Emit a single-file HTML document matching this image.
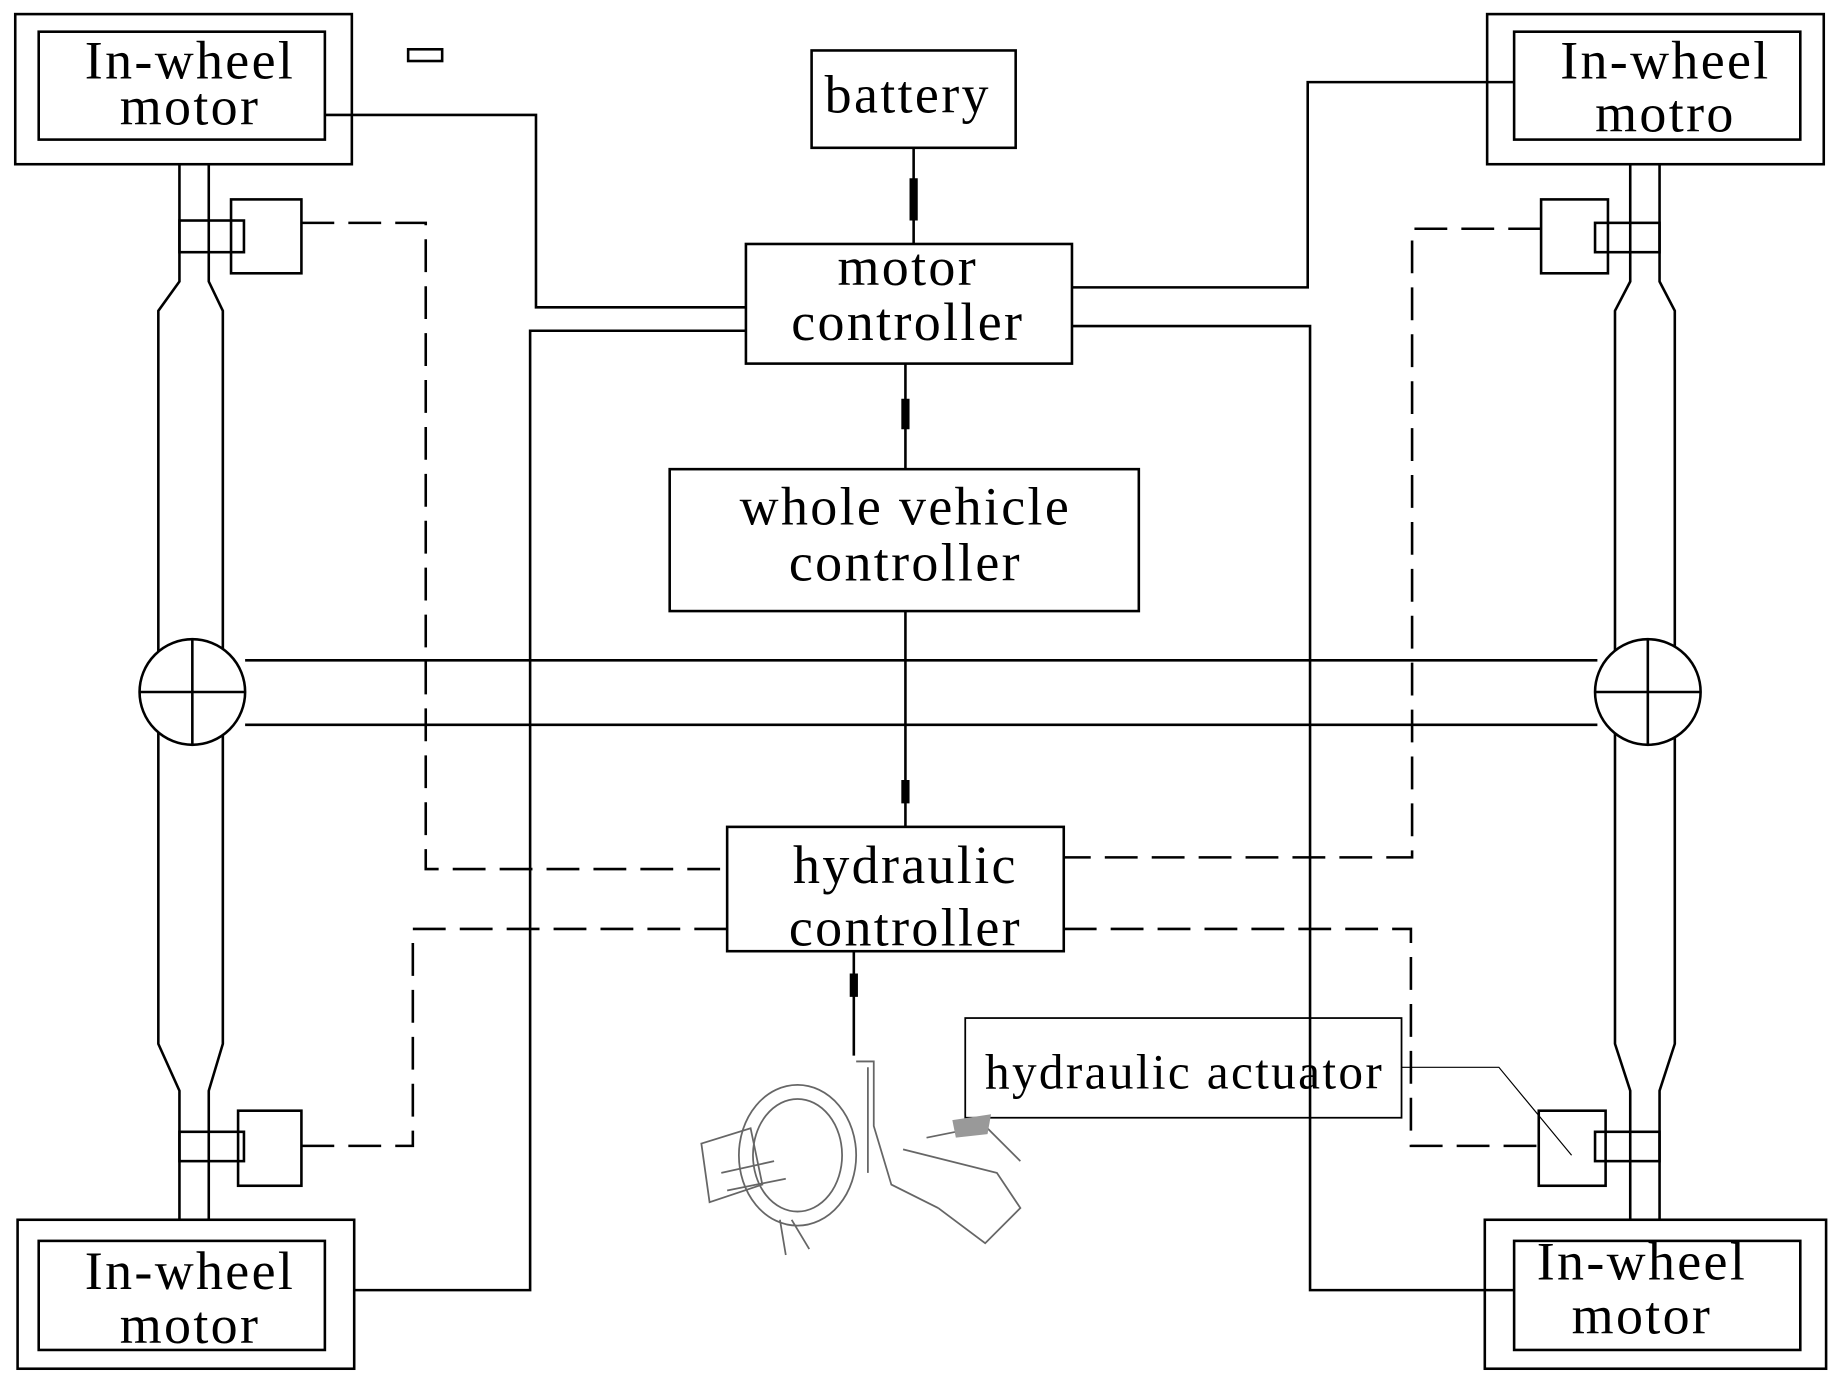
<!DOCTYPE html>
<html><head><meta charset="utf-8"><style>
html,body{margin:0;padding:0;background:#fff;}
svg{display:block;}
text{font-family:"Liberation Serif",serif;font-size:46px;letter-spacing:2px;fill:#000;text-anchor:middle;}
</style></head><body>
<svg width="1839" height="1384" viewBox="0 0 1568 1180" xmlns="http://www.w3.org/2000/svg">
<g fill="none" stroke="#000" stroke-width="2.2">
<rect x="13" y="12" width="287" height="128"/><rect x="33" y="27" width="244" height="92"/>
<rect x="1268" y="12" width="287" height="128"/><rect x="1291" y="27" width="244" height="92"/>
<rect x="15" y="1040" width="287" height="127"/><rect x="33" y="1058" width="244" height="93"/>
<rect x="1266" y="1040" width="291" height="127"/><rect x="1291" y="1058" width="244" height="93"/>
<rect x="348" y="42" width="29" height="10"/>
<rect x="692" y="43" width="174" height="83"/>
<rect x="636" y="208" width="278" height="102"/>
<rect x="571" y="400" width="400" height="121"/>
<rect x="620" y="705" width="287" height="106"/>
<rect x="823" y="868" width="372" height="85" stroke-width="1.5"/>
<path d="M153 140V240L135 265V890L153 930V1040M178 140V240L190 265V890L178 930V1040"/>
<path d="M1390 140V240L1377 265V890L1390 930V1040M1415 140V240L1428 265V890L1415 930V1040"/>
<circle cx="164" cy="590" r="45" fill="#fff"/><path d="M119 590H209M164 545V635"/>
<circle cx="1405" cy="590" r="45" fill="#fff"/><path d="M1360 590H1450M1405 545V635"/>
<path d="M209 563H1362M209 618H1362"/>
<rect x="197" y="170" width="60" height="63" fill="#fff"/><rect x="153" y="188" width="55" height="27"/>
<rect x="203" y="947" width="54" height="64" fill="#fff"/><rect x="153" y="965" width="55" height="25"/>
<rect x="1314" y="170" width="57" height="63" fill="#fff"/><rect x="1360" y="190" width="55" height="25"/>
<rect x="1312" y="947" width="57" height="64" fill="#fff"/><rect x="1360" y="965" width="55" height="25"/>
<path d="M277 98H457V262H636M636 282H452V1100H302"/>
<path d="M914 245H1115V70H1291M914 278H1117V1100H1291"/>
<path d="M779 126V208M772 310V400M772 521V705M728 811V900"/>
</g>
<g stroke="#000" stroke-width="7" fill="none">
<path d="M779 152V188M772 340V366M772 665V685M728 830V850"/>
</g>
<g fill="none" stroke="#000" stroke-width="2.2" stroke-dasharray="28,12">
<path d="M257 190H363V741H620"/>
<path d="M620 792H352V977H257"/>
<path d="M1314 195H1204V731H907"/>
<path d="M907 792H1203V977H1312"/>
</g>
<path d="M1195 910H1278L1340 985" fill="none" stroke="#000" stroke-width="1"/>
<g fill="none" stroke="#666" stroke-width="1.5">
<ellipse cx="680" cy="985" rx="50" ry="60"/>
<ellipse cx="680" cy="985" rx="38" ry="48"/>
<path d="M598 975L640 962L650 1010L605 1025Z"/>
<path d="M615 1000L660 990M620 1015L670 1005M675 1040L690 1065M665 1040L670 1070"/>
<path d="M730 905H745V960L760 1010L800 1030"/>
<path d="M740 910V1000M770 980L850 1000L870 1030L840 1060L800 1030"/>
<path d="M790 970L840 960L870 990"/>
</g>
<path d="M812 955L845 950L842 967L815 970Z" fill="#999"/>
<text x="162" y="67">In-wheel</text><text x="162" y="106">motor</text>
<text x="1420" y="67">In-wheel</text><text x="1420" y="112">motro</text>
<text x="162" y="1099">In-wheel</text><text x="162" y="1145">motor</text>
<text x="1400" y="1091">In-wheel</text><text x="1400" y="1137">motor</text>
<text x="774" y="96">battery</text>
<text x="774" y="243">motor</text><text x="774" y="290">controller</text>
<text x="772" y="447">whole vehicle</text><text x="772" y="495">controller</text>
<text x="772" y="753">hydraulic</text><text x="772" y="806">controller</text>
<text x="1010" y="928" style="font-size:42px">hydraulic actuator</text>
</svg>
</body></html>
